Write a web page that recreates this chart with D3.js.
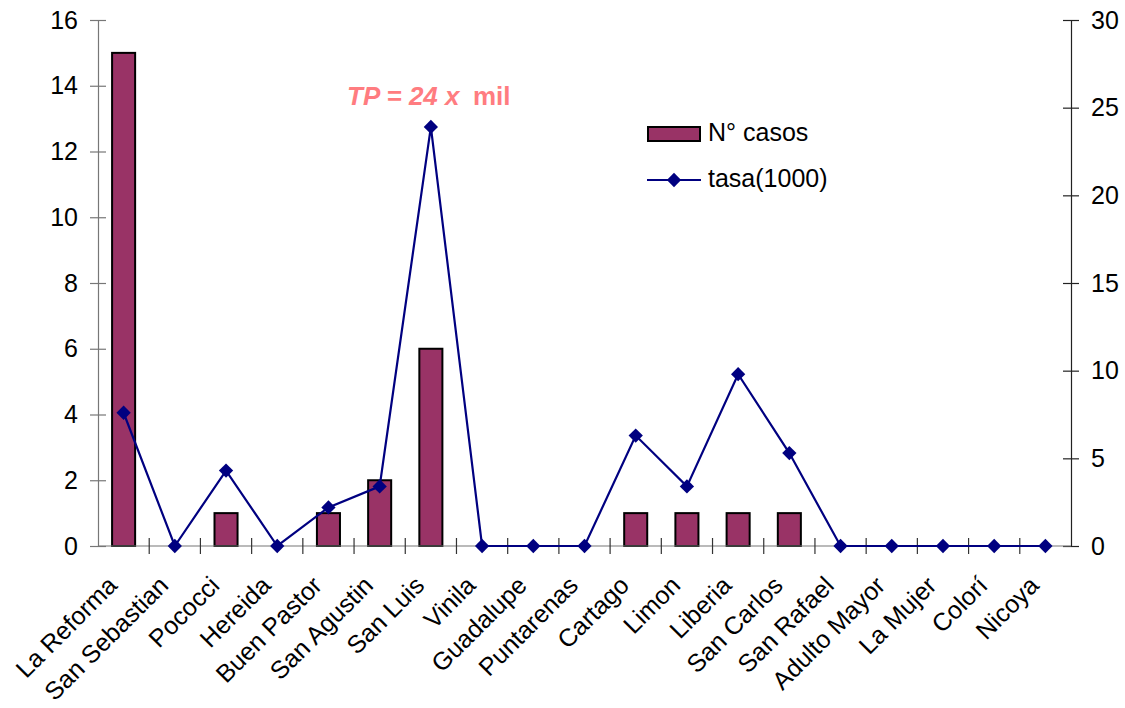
<!DOCTYPE html>
<html>
<head>
<meta charset="utf-8">
<script src="https://cdn.jsdelivr.net/npm/d3@7"></script>
<style>
  body { margin: 0; background: #fff; }
  svg { display: block; font-family: "Liberation Sans", Arial, sans-serif; }
</style>
</head>
<body>
<svg id="chart" width="1125" height="708"></svg>
<script>
// Cases and rate per establishment
const categories = ["La Reforma", "San Sebastian", "Pococci", "Hereida", "Buen Pastor", "San Agustin",
  "San Luis", "Vinila", "Guadalupe", "Puntarenas", "Cartago", "Limon", "Liberia", "San Carlos",
  "San Rafael", "Adulto Mayor", "La Mujer", "Colorí", "Nicoya"];
const casos = [15, 0, 1, 0, 1, 2, 6, 0, 0, 0, 1, 1, 1, 1, 0, 0, 0, 0, 0];
const tasa = [7.6, 0, 4.3, 0, 2.2, 3.4, 23.9, 0, 0, 0, 6.3, 3.4, 9.8, 5.3, 0, 0, 0, 0, 0];
const leftTicks = [0, 2, 4, 6, 8, 10, 12, 14, 16];
const rightTicks = [0, 5, 10, 15, 20, 25, 30];
const seriesNames = ["N° casos", "tasa(1000)"];

const svg = d3.select("#chart");
const plotL = 98, plotR = 1071, plotT = 20, plotB = 546;

const x = d3.scaleBand().domain(categories).range([plotL, plotR]).paddingInner(0).paddingOuter(0);
const yL = d3.scaleLinear().domain([0, 16]).range([plotB, plotT]);
const yR = d3.scaleLinear().domain([0, 30]).range([plotB, plotT]);
const cx = (i) => x(categories[i]) + x.bandwidth() / 2;

const barColor = "#993366", lineColor = "#000080";

// Bars (only non-zero counts are drawn)
const bw = x.bandwidth() * 0.45;
svg.append("g").selectAll("rect").data(categories).join("rect")
  .attr("x", (d) => x(d) + (x.bandwidth() - bw) / 2)
  .attr("y", (d, i) => yL(casos[i]))
  .attr("width", bw)
  .attr("height", (d, i) => yL(0) - yL(casos[i]))
  .attr("fill", barColor)
  .attr("stroke", "#000")
  .attr("stroke-width", 2)
  .attr("display", (d, i) => casos[i] > 0 ? null : "none");

// Left axis
const gL = svg.append("g").attr("transform", `translate(${plotL},0)`)
  .call(d3.axisLeft(yL).tickValues(leftTicks).tickSize(8).tickPadding(12).tickFormat(d3.format("d")));
gL.select(".domain").attr("stroke", "#777").attr("stroke-width", 1.2);
gL.selectAll(".tick line").attr("x2", -8).attr("x1", 8).attr("stroke", "#777").attr("stroke-width", 1.2);
gL.selectAll(".tick text").attr("font-size", 25).attr("fill", "#000").attr("font-family", "Liberation Sans, Arial, sans-serif");

// Right axis
const gR = svg.append("g").attr("transform", `translate(${plotR},0)`)
  .call(d3.axisRight(yR).tickValues(rightTicks).tickSize(8).tickPadding(12).tickFormat(d3.format("d")));
gR.select(".domain").attr("stroke", "#222").attr("stroke-width", 1.2);
gR.selectAll(".tick line").attr("x1", -8).attr("x2", 8).attr("stroke", "#222").attr("stroke-width", 1.2);
gR.selectAll(".tick text").attr("font-size", 25).attr("fill", "#000").attr("font-family", "Liberation Sans, Arial, sans-serif");

// Bottom axis with ticks at category boundaries
const gB = svg.append("g").attr("transform", `translate(0,${plotB})`);
gB.append("line").attr("x1", plotL).attr("x2", plotR).attr("stroke", "#777").attr("stroke-width", 1.2);
gB.selectAll("line.tk").data(categories.slice(1)).join("line").attr("class", "tk")
  .attr("x1", (d) => x(d)).attr("x2", (d) => x(d))
  .attr("y1", -8).attr("y2", 8).attr("stroke", "#333").attr("stroke-width", 1.2);
gB.selectAll("text").data(categories).join("text")
  .attr("transform", (d, i) => `translate(${cx(i) - 5},${41}) rotate(-45)`)
  .attr("text-anchor", "end")
  .attr("font-size", 25)
  .attr("fill", "#000")
  .text((d) => d);

// Rate line
const line = d3.line().x((d, i) => cx(i)).y((d) => yR(d));
svg.append("path").datum(tasa).attr("d", line)
  .attr("fill", "none").attr("stroke", lineColor).attr("stroke-width", 2.2);
const diamond = d3.symbol().type(d3.symbolDiamond2).size(130);
svg.append("g").selectAll("path").data(tasa).join("path")
  .attr("transform", (d, i) => `translate(${cx(i)},${yR(d)})`)
  .attr("d", diamond)
  .attr("fill", lineColor);

// Annotation for the peak rate
const ann = svg.append("text").attr("y", 105)
  .attr("font-size", 26).attr("font-weight", "bold").attr("fill", "#FF7C80");
ann.append("tspan").attr("x", 347).attr("font-style", "italic").text("TP = 24 x");
ann.append("tspan").attr("x", 473).text("mil");

// Legend
const lg = svg.append("g");
lg.append("rect").attr("x", 648).attr("y", 127).attr("width", 52).attr("height", 14)
  .attr("fill", barColor).attr("stroke", "#000").attr("stroke-width", 2);
lg.append("text").attr("x", 708).attr("y", 141).attr("font-size", 25).text(seriesNames[0]);
lg.append("line").attr("x1", 647).attr("x2", 701).attr("y1", 180).attr("y2", 180)
  .attr("stroke", lineColor).attr("stroke-width", 2.2);
lg.append("path").attr("transform", "translate(674,180)").attr("d", diamond).attr("fill", lineColor);
lg.append("text").attr("x", 708).attr("y", 187).attr("font-size", 25).text(seriesNames[1]);
</script>
</body>
</html>
